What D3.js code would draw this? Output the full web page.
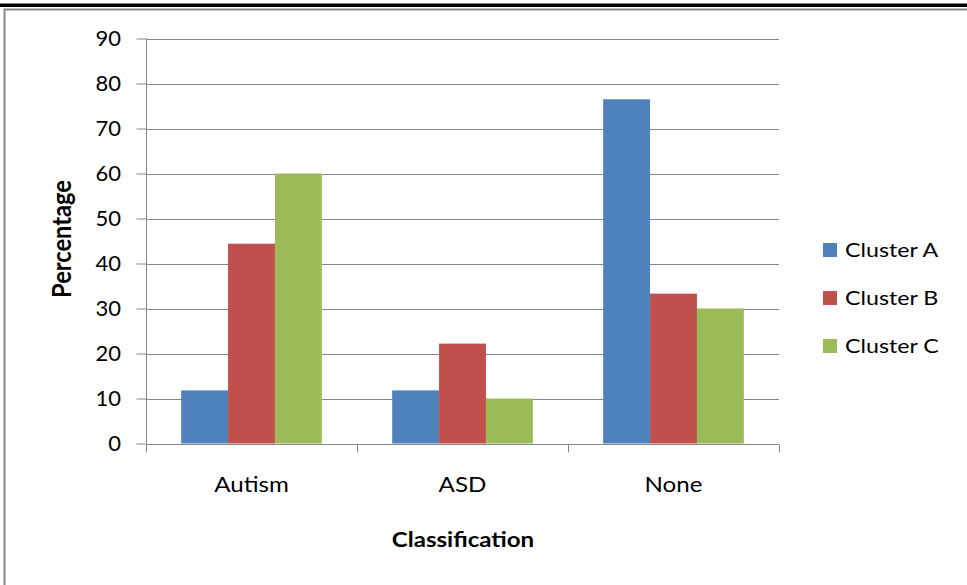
<!DOCTYPE html>
<html>
<head>
<meta charset="utf-8">
<script src="https://cdn.jsdelivr.net/npm/d3@7"></script>
<style>
  html, body { margin: 0; padding: 0; background: #fff; }
  svg { display: block; }
  text { font-family: Lato, "Open Sans", sans-serif; fill: #000; }
</style>
</head>
<body>
<svg id="chart" width="967" height="585"></svg>
<script>
// Share of each cluster falling into each diagnostic classification
const categories = ["Autism", "ASD", "None"];
const seriesNames = ["Cluster A", "Cluster B", "Cluster C"];
const clusterA = [11.8, 11.8, 76.5];
const clusterB = [44.4, 22.2, 33.3];
const clusterC = [60, 10, 30];
const seriesColors = ["#4F81BD", "#C0504D", "#9BBB59"];
const yTicks = [0, 10, 20, 30, 40, 50, 60, 70, 80, 90];

const seriesValues = [clusterA, clusterB, clusterC];

const svg = d3.select("#chart");

// Text placed at a point and widened a little horizontally
function label(parent, x, y, str, opts) {
  const o = Object.assign({ size: 21, sx: 1.15, sy: 1, anchor: "middle", weight: "normal", rotate: 0, dy: null }, opts || {});
  const t = parent.append("text")
    .attr("transform", `translate(${x},${y})` + (o.rotate ? ` rotate(${o.rotate})` : "") + ` scale(${o.sx},${o.sy})`)
    .attr("text-anchor", o.anchor)
    .style("font-size", o.size + "px")
    .style("font-weight", o.weight)
    .text(str);
  if (o.dy) t.attr("dy", o.dy);
  return t;
}

// Outer frame: heavy rule on top, thin grey border below it
svg.append("rect").attr("x", 0).attr("y", 3.5).attr("width", 967).attr("height", 3.5).attr("fill", "#000");
svg.append("path")
  .attr("d", "M4.5,585 V9.5 H967")
  .attr("fill", "none").attr("stroke", "#8a8a8a").attr("stroke-width", 2);

const plot = { left: 146, right: 779, top: 38.5, bottom: 443.5 };

const x0 = d3.scaleBand().domain(categories).range([plot.left, plot.right]).paddingInner(0).paddingOuter(0);
const groupInner = 3 / 4.5; // bars take 3 widths, gaps 1.5 widths
const x1 = d3.scaleBand().domain(seriesNames)
  .range([0, x0.bandwidth() * groupInner]);
const groupOffset = x0.bandwidth() * (1 - groupInner) / 2;

const y = d3.scaleLinear().domain([0, 90]).range([plot.bottom, plot.top]);

// Horizontal gridlines
svg.append("g").selectAll("line").data(yTicks.filter(d => d > 0)).join("line")
  .attr("x1", plot.left).attr("x2", plot.right)
  .attr("y1", d => Math.round(y(d)) + 0.5).attr("y2", d => Math.round(y(d)) + 0.5)
  .attr("stroke", "#868686").attr("stroke-width", 1);

// Bars
const rows = categories.map((c, i) => ({ cat: c, vals: seriesValues.map((s, j) => ({ name: seriesNames[j], v: s[i], color: seriesColors[j] })) }));
svg.append("g").selectAll("g").data(rows).join("g")
  .attr("transform", d => `translate(${x0(d.cat) + groupOffset},0)`)
  .selectAll("rect").data(d => d.vals).join("rect")
  .attr("x", d => x1(d.name))
  .attr("width", x1.bandwidth())
  .attr("y", d => y(d.v))
  .attr("height", d => y(0) - y(d.v))
  .attr("fill", d => d.color);

// Y axis: line and ticks from d3, labels drawn separately
const yAxis = d3.axisLeft(y).tickValues(yTicks).tickSize(10).tickFormat("");
const gy = svg.append("g").attr("transform", `translate(${plot.left + 0.5},0)`).call(yAxis);
gy.select(".domain").attr("stroke", "#868686").attr("d", `M0,${plot.top}V${plot.bottom}`);
gy.selectAll(".tick line").attr("stroke", "#868686");
const yLabels = svg.append("g");
yTicks.forEach(v => label(yLabels, 121, y(v), String(v), { size: 22, sx: 1, anchor: "end", dy: "0.35em" }));

// X axis with tick marks on category boundaries
const gx = svg.append("g").attr("transform", `translate(0,${Math.round(plot.bottom) + 0.5})`);
gx.append("line").attr("x1", plot.left).attr("x2", plot.right).attr("stroke", "#868686");
const bounds = categories.map(c => x0(c)).concat([plot.right]);
gx.selectAll("line.tk").data(bounds).join("line").attr("class", "tk")
  .attr("x1", d => Math.round(d) + 0.5).attr("x2", d => Math.round(d) + 0.5)
  .attr("y1", 0).attr("y2", 8).attr("stroke", "#868686");
const xLabels = svg.append("g");
categories.forEach(c => label(xLabels, x0(c) + x0.bandwidth() / 2, 491.5, c, { size: 21, sx: 1.15 }));

// Axis titles
label(svg, 71, 239, "Percentage", { size: 21.7, weight: "bold", rotate: -90, sx: 1.09, sy: 1.22 });
label(svg, 463, 547, "Classification", { size: 21.7, weight: "bold", sx: 1.11 });

// Legend
const legend = svg.append("g").selectAll("g").data(seriesNames).join("g")
  .attr("transform", (d, i) => `translate(823,${250 + i * 48})`);
legend.append("rect").attr("x", 0).attr("y", -7).attr("width", 14).attr("height", 14)
  .attr("fill", (d, i) => seriesColors[i]);
legend.each(function (d) {
  label(d3.select(this), 22, 0, d, { size: 19.5, sx: 1.19, anchor: "start", dy: "0.35em" });
});
</script>
</body>
</html>
